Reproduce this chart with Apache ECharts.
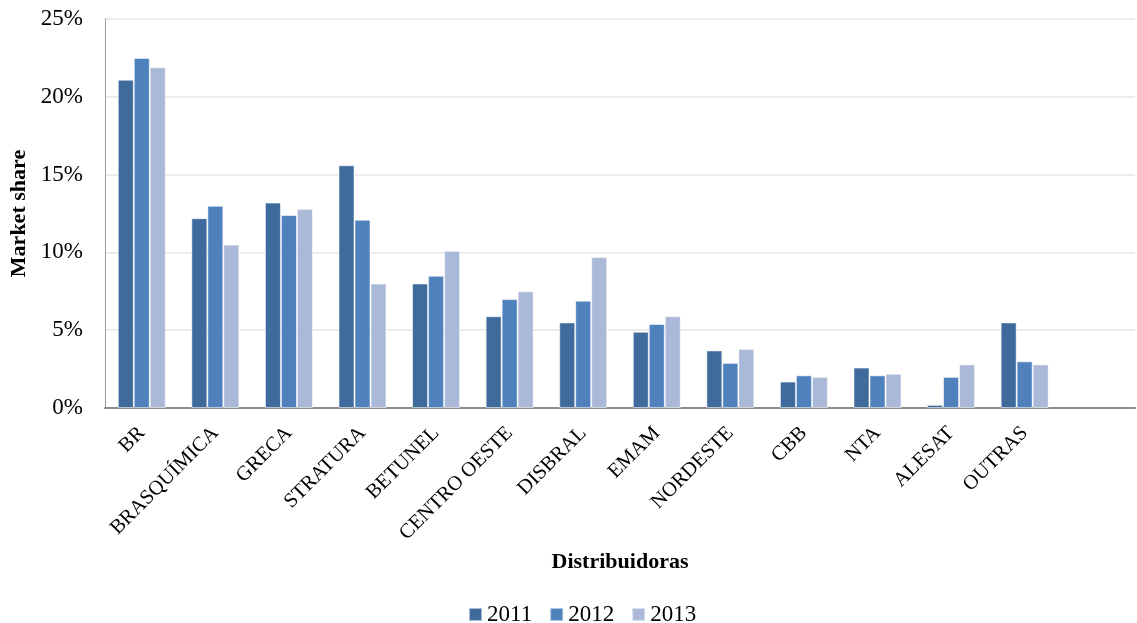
<!DOCTYPE html>
<html>
<head>
<meta charset="utf-8">
<script src="https://cdn.jsdelivr.net/npm/echarts@6/dist/echarts.min.js"></script>
<style>
  html, body { margin: 0; padding: 0; background: #fff; }
  #chart { width: 1137px; height: 623px; }
</style>
</head>
<body>
<div id="chart"></div>
<script>
// distribuidoras (the last slot is empty in the original chart)
const categories = ["BR", "BRASQUÍMICA", "GRECA", "STRATURA", "BETUNEL", "CENTRO OESTE",
  "DISBRAL", "EMAM", "NORDESTE", "CBB", "NTA", "ALESAT", "OUTRAS", ""];

// market share, %
const share2011 = [21.1, 12.2, 13.2, 15.6, 8.0, 5.9, 5.5, 4.9, 3.7, 1.7, 2.6, 0.2, 5.5, null];
const share2012 = [22.5, 13.0, 12.4, 12.1, 8.5, 7.0, 6.9, 5.4, 2.9, 2.1, 2.1, 2.0, 3.0, null];
const share2013 = [21.9, 10.5, 12.8, 8.0, 10.1, 7.5, 9.7, 5.9, 3.8, 2.0, 2.2, 2.8, 2.8, null];

const yTicks = { min: 0, max: 25, step: 5 };

const chart = echarts.init(document.getElementById("chart"));
const font = "Liberation Serif";

const barStyle = (color) => ({
  color: color,
  borderColor: "rgba(255,255,255,0.55)",
  borderWidth: 1
});

chart.setOption({
  animation: false,
  textStyle: { fontFamily: font, color: "#000" },
  grid: { left: 105, right: 2, top: 19, bottom: 215, outerBoundsMode: "none" },
  legend: {
    top: 598,
    left: 463,
    icon: "rect",
    itemWidth: 13,
    itemHeight: 13,
    itemGap: 17,
    textStyle: { fontFamily: font, fontSize: 23, color: "#000" },
    data: ["2011", "2012", "2013"]
  },
  xAxis: {
    type: "category",
    data: categories,
    name: "Distribuidoras",
    nameLocation: "middle",
    nameGap: 128,
    nameTextStyle: { fontFamily: font, fontSize: 22, fontWeight: "bold", color: "#000" },
    axisLine: { lineStyle: { color: "#8c8c8c", width: 2 } },
    axisTick: { show: false },
    axisLabel: { rotate: 45, fontSize: 20.5, color: "#000", fontFamily: font, margin: 22, interval: 0 }
  },
  yAxis: {
    type: "value",
    min: yTicks.min,
    max: yTicks.max,
    interval: yTicks.step,
    name: "Market share",
    nameLocation: "middle",
    nameGap: 72,
    nameTextStyle: { fontFamily: font, fontSize: 22, fontWeight: "bold", color: "#000" },
    axisLine: { show: true, lineStyle: { color: "#9a9a9a", width: 1 } },
    axisTick: { show: false },
    splitLine: { lineStyle: { color: "#ececec", width: 2 } },
    axisLabel: { formatter: "{value}%", fontSize: 23, color: "#000", fontFamily: font, margin: 22 }
  },
  series: [
    { name: "2011", type: "bar", data: share2011, barWidth: 16, barGap: "0%", itemStyle: barStyle("#3f6a9c") },
    { name: "2012", type: "bar", data: share2012, barWidth: 16, barGap: "0%", itemStyle: barStyle("#4f81bd") },
    { name: "2013", type: "bar", data: share2013, barWidth: 16, barGap: "0%", itemStyle: barStyle("#aab9d7") }
  ]
});
</script>
</body>
</html>
